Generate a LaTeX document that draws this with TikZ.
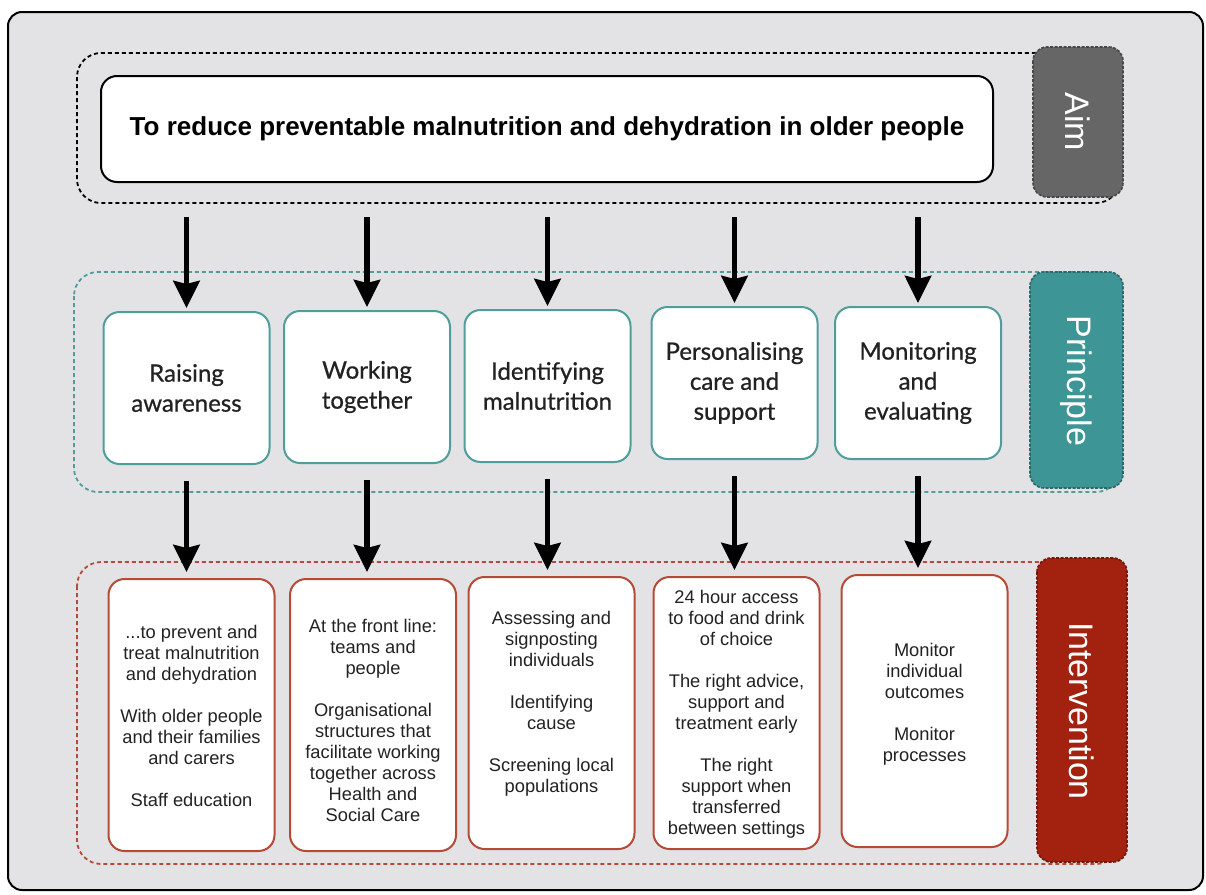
\documentclass[tikz,border=0pt]{standalone}
\usepackage{fontspec}
\setmainfont{Liberation Sans}
\newfontfamily\gillfont[FakeBold=0.7]{Lato}
\usetikzlibrary{arrows.meta}
\definecolor{bg}{HTML}{E3E3E6}
\definecolor{aimc}{HTML}{666666}
\definecolor{tealc}{HTML}{3E9595}
\definecolor{tealb}{HTML}{4F9E9C}
\definecolor{reddk}{HTML}{A3220F}
\definecolor{redb}{HTML}{B54A36}
\definecolor{txt}{HTML}{222222}
\begin{document}
\begin{tikzpicture}[x=1pt,y=-1pt,
  outerbox/.style={draw=black, line width=2pt, fill=bg, rounded corners=14pt},
  groupbox/.style={draw=#1, line width=1.8pt, dash pattern=on 4pt off 3pt, rounded corners=24pt},
  tagbox/.style={fill=#1, draw=#1!70!black, line width=1.6pt, dash pattern=on 3pt off 1.5pt, rounded corners=14pt},
  tagtext/.style={text=white, rotate=-90, font=\fontsize{34}{38}\selectfont},
  aimbox/.style={draw=black, line width=2pt, fill=white, rounded corners=16pt,
    font=\fontsize{26}{30}\selectfont\bfseries, text=black},
  pbox/.style={draw=tealb, line width=2pt, fill=white, rounded corners=16pt,
    minimum width=166pt, minimum height=152pt, align=center, text=txt,
    font=\gillfont\fontsize{24}{30}\selectfont},
  ibox/.style={draw=redb, line width=2pt, fill=white, rounded corners=16pt,
    minimum width=166pt, minimum height=272pt},
  itext/.style={align=center, text=txt, font=\fontsize{18.3}{21}\selectfont},
  arr/.style={line width=5.5pt, -{Stealth[length=27pt,width=26pt,inset=3pt]}}
]
\useasboundingbox (0,0) rectangle (1206,894);
\draw[outerbox] (8,12) rectangle (1203,890);

% Aim row
\draw[groupbox=black] (77,53) rectangle (1120,203);
\coordinate (aimbottom) at (598,203);
\draw[tagbox=aimc] (1033,47) rectangle (1123,197);
\node[tagtext] (aimlabel) at (1078,122) {Aim};
\node[aimbox, minimum width=892pt, minimum height=106pt] (aim) at (547,129)
  {To reduce preventable malnutrition and dehydration in older people};

% Principle row
\draw[groupbox=tealb] (74,272) rectangle (1120,492);
\draw[tagbox=tealc] (1030,272) rectangle (1123,488);
\node[tagtext] (plabel) at (1076.5,381) {Principle};
\node[pbox] (p1) at (186.5,388) {Raising\\awareness};
\node[pbox] (p2) at (367,387) {Working\\together};
\node[pbox] (p3) at (547.5,386) {Identifying\\malnutrition};
\node[pbox] (p4) at (734.5,383) {Personalising\\care and\\support};
\node[pbox] (p5) at (918,383) {Monitoring\\and\\evaluating};

% Intervention row
\draw[groupbox=redb] (77,562) rectangle (1120,864);
\draw[tagbox=reddk] (1037,558) rectangle (1127,862);
\node[tagtext] (ilabel) at (1082,711) {Intervention};
\node[ibox] (i1) at (191.5,715) {};
\node[ibox] (i2) at (373,715) {};
\node[ibox] (i3) at (551.5,713) {};
\node[ibox] (i4) at (736.5,713) {};
\node[ibox] (i5) at (924.5,711) {};
\node[itext] (t1) at (191.5,716) {...to prevent and\\treat malnutrition\\and dehydration\\[21pt]With older people\\and their families\\and carers\\[21pt]Staff education};
\node[itext] (t2) at (373,720) {At the front line:\\teams and\\people\\[21pt]Organisational\\structures that\\facilitate working\\together across\\Health and\\Social Care};
\node[itext] (t3) at (551.5,704) {Assessing and\\signposting\\individuals\\[21pt]Identifying\\cause\\[21pt]Screening local\\populations};
\node[itext] (t4) at (736.5,714) {24 hour access\\to food and drink\\of choice\\[21pt]The right advice,\\support and\\treatment early\\[21pt]The right\\support when\\transferred\\between settings};
\node[itext] (t5) at (924.5,704) {Monitor\\individual\\outcomes\\[21pt]Monitor\\processes};

% Arrows aim -> principle
\foreach \p in {p1,p2,p3,p4,p5}{
  \draw[arr, shorten <=14pt, shorten >=3pt] (aimbottom -| \p.north) -- (\p.north);
}
% Arrows principle -> intervention
\foreach \p/\i in {p1/i1,p2/i2,p3/i3,p4/i4,p5/i5}{
  \draw[arr, shorten <=16pt, shorten >=6pt] (\p.south) -- (\p.south |- \i.north);
}
\end{tikzpicture}
\end{document}
